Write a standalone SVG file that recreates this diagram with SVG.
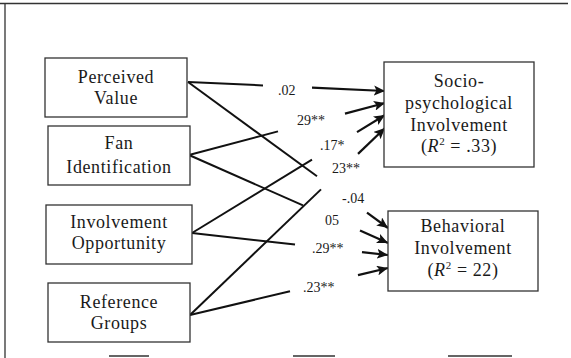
<svg xmlns="http://www.w3.org/2000/svg" width="571" height="358" viewBox="0 0 571 358">
<defs>
<marker id="ah" markerUnits="userSpaceOnUse" markerWidth="12" markerHeight="10" refX="11" refY="5" orient="auto">
<path d="M0,0 L11,5 L0,10 L2.5,5 Z" fill="#111"/>
</marker>
<style>
.box{fill:#fff;stroke:#333;stroke-width:1.3}
.t{font-family:"Liberation Serif","Times New Roman",serif;font-size:18px;fill:#1a1a1a;text-anchor:middle;letter-spacing:0.6px}
.lab{font-family:"Liberation Serif","Times New Roman",serif;font-size:14px;fill:#1a1a1a}
.ln{stroke:#111;stroke-width:2;fill:none}
.ar{stroke:#111;stroke-width:2.2;fill:none;marker-end:url(#ah)}
.frame{stroke:#333;stroke-width:1.3;fill:none}
</style>
</defs>
<g id="frame">
<path class="frame" d="M0,3.5 H568 M5,3.5 V358"/>
<path class="frame" d="M109,356 H149 M293,356 H335 M448,356 H512"/>
</g>
<g id="connectors">
<!-- PV -> Socio .02 -->
<line class="ln" x1="188" y1="82" x2="263" y2="85.4"/>
<line class="ar" x1="312" y1="87.6" x2="385" y2="91"/>
<!-- PV -> Beh -.04 -->
<line class="ln" x1="188" y1="82" x2="317" y2="176.2"/>
<line class="ar" x1="367" y1="212.7" x2="388" y2="228"/>
<!-- FI -> Socio 29** -->
<line class="ln" x1="189" y1="155" x2="278" y2="131.4"/>
<line class="ar" x1="345" y1="113.6" x2="385" y2="103"/>
<!-- FI -> Beh 05 -->
<line class="ln" x1="189" y1="155" x2="303" y2="205.4"/>
<line class="ar" x1="360" y1="230.6" x2="388" y2="243"/>
<!-- IO -> Socio .17* -->
<line class="ln" x1="192" y1="233" x2="312" y2="159.6"/>
<line class="ar" x1="357" y1="132.1" x2="385" y2="115"/>
<!-- IO -> Beh .29** -->
<line class="ln" x1="192" y1="233" x2="295" y2="244.6"/>
<line class="ar" x1="362" y1="252.1" x2="388" y2="255"/>
<!-- RG -> Socio 23** -->
<line class="ln" x1="190" y1="315" x2="321" y2="189.4"/>
<line class="ar" x1="358" y1="153.9" x2="385" y2="128"/>
<!-- RG -> Beh .23** -->
<line class="ln" x1="190" y1="315" x2="290" y2="291.3"/>
<line class="ar" x1="358" y1="275.1" x2="388" y2="268"/>
</g>
<g id="labels">
<text class="lab" x="278" y="95">.02</text>
<text class="lab" x="297" y="125">29**</text>
<text class="lab" x="320" y="150">.17*</text>
<text class="lab" x="332" y="173">23**</text>
<text class="lab" x="342" y="203">-.04</text>
<text class="lab" x="325" y="225">05</text>
<text class="lab" x="312" y="253">.29**</text>
<text class="lab" x="303" y="292">.23**</text>
</g>
<g id="perceived-value">
<rect class="box" x="45" y="58" width="142" height="59"/>
<text class="t" x="116" y="83">Perceived</text>
<text class="t" x="116" y="104">Value</text>
</g>
<g id="fan-identification">
<rect class="box" x="48" y="126" width="142" height="59"/>
<text class="t" x="119" y="149">Fan</text>
<text class="t" x="119" y="173">Identification</text>
</g>
<g id="involvement-opportunity">
<rect class="box" x="46" y="205" width="146" height="59"/>
<text class="t" x="119" y="228">Involvement</text>
<text class="t" x="119" y="249">Opportunity</text>
</g>
<g id="reference-groups">
<rect class="box" x="48" y="283" width="142" height="59"/>
<text class="t" x="119" y="308">Reference</text>
<text class="t" x="119" y="329">Groups</text>
</g>
<g id="socio-psychological">
<rect class="box" x="384" y="62" width="150" height="105"/>
<text class="t" x="459" y="87">Socio-</text>
<text class="t" x="459" y="109">psychological</text>
<text class="t" x="459" y="131">Involvement</text>
<text class="t" x="459" y="152">(<tspan font-style="italic">R</tspan><tspan font-size="11" dy="-7">2</tspan><tspan dy="7"> = .33)</tspan></text>
</g>
<g id="behavioral">
<rect class="box" x="388" y="211" width="150" height="80"/>
<text class="t" x="463" y="232">Behavioral</text>
<text class="t" x="463" y="254">Involvement</text>
<text class="t" x="463" y="276">(<tspan font-style="italic">R</tspan><tspan font-size="11" dy="-7">2</tspan><tspan dy="7"> = 22)</tspan></text>
</g>
</svg>
